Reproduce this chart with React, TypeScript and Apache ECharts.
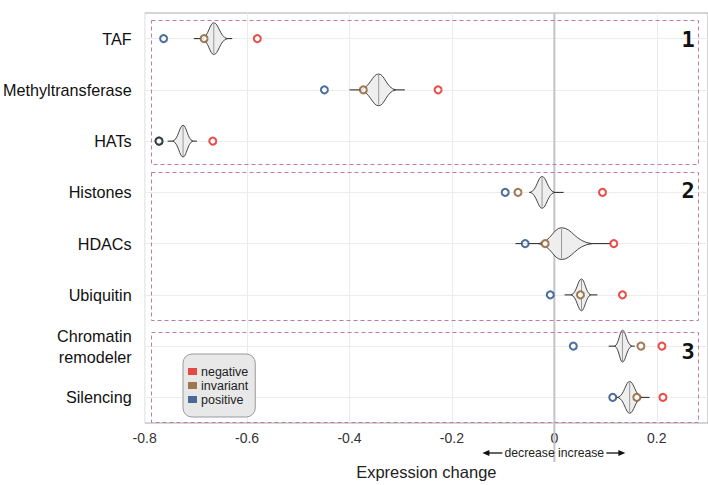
import React, { useEffect, useRef } from 'react';
import * as echarts from 'echarts';

const categories = ['TAF', 'Methyltransferase', 'HATs', 'Histones', 'HDACs', 'Ubiquitin', 'Chromatin\nremodeler', 'Silencing'];
const negative = [-0.58, -0.227, -0.667, 0.094, 0.116, 0.133, 0.21, 0.212];
const invariant = [-0.684, -0.373, -0.772, -0.071, -0.018, 0.051, 0.169, 0.161];
const positive = [-0.763, -0.449, -0.772, -0.096, -0.057, -0.008, 0.037, 0.114];
const violinMedian = [-0.665, -0.343, -0.725, -0.024, 0.014, 0.053, 0.133, 0.147];
const violinMin = [-0.704, -0.4, -0.755, -0.049, -0.076, 0.02, 0.106, 0.118];
const violinMax = [-0.629, -0.292, -0.698, 0.018, 0.112, 0.084, 0.157, 0.186];
const violinBodyLow = [-0.688, -0.38, -0.745, -0.047, -0.031, 0.033, 0.118, 0.124];
const violinBodyHigh = [-0.639, -0.31, -0.706, 0.0, 0.073, 0.071, 0.151, 0.171];
const groupLabels = ['1', '2', '3'];

const FONT = '"Liberation Sans", Arial, Helvetica, sans-serif';
const COLORS = { negative: '#e3201c', invariant: '#8a5a2a', positive: '#1f4a85' };

export default function App() {
  const ref = useRef<HTMLDivElement>(null);
  useEffect(() => {
    if (!ref.current) return;
    const chart = echarts.init(ref.current, null, { renderer: 'svg' });
    const violinData = categories.map((_, i) => [i, violinMedian[i], violinMin[i], violinMax[i], violinBodyLow[i], violinBodyHigh[i]]);

    const renderViolin = (params: any, api: any) => {
      const idx = api.value(0);
      const med = api.coord([api.value(1), idx]);
      const lo = api.coord([api.value(2), idx]);
      const hi = api.coord([api.value(3), idx]);
      const bl = api.coord([api.value(4), idx])[0];
      const bh = api.coord([api.value(5), idx])[0];
      const h = api.size([0, 1])[1] * 0.31;
      const cy = med[1];
      const mx = med[0];
      const dl = mx - bl;
      const dr = bh - mx;
      const d =
        `M${bl},${cy} C${bl + 0.55 * dl},${cy - 0.12 * h} ${mx - 0.35 * dl},${cy - h} ${mx},${cy - h} ` +
        `C${mx + 0.35 * dr},${cy - h} ${bh - 0.55 * dr},${cy - 0.12 * h} ${bh},${cy} ` +
        `C${bh - 0.55 * dr},${cy + 0.12 * h} ${mx + 0.35 * dr},${cy + h} ${mx},${cy + h} ` +
        `C${mx - 0.35 * dl},${cy + h} ${bl + 0.55 * dl},${cy + 0.12 * h} ${bl},${cy} Z`;
      return {
        type: 'group',
        children: [
          { type: 'line', shape: { x1: lo[0], y1: cy, x2: hi[0], y2: cy }, style: { stroke: '#222', lineWidth: 1 } },
          { type: 'path', shape: { pathData: d }, style: { fill: '#eeeeee', stroke: '#333', lineWidth: 0.9 } },
          { type: 'line', shape: { x1: mx, y1: cy - h + 1, x2: mx, y2: cy + h - 1 }, style: { stroke: '#999', lineWidth: 1 } },
        ],
      };
    };

    const scatter = (name: string, arr: number[], color: string, special?: (i: number) => any) => ({
      name,
      type: 'scatter',
      symbol: 'emptyCircle',
      symbolSize: 7,
      z: 3,
      itemStyle: { color, borderWidth: 1.3 },
      data: arr.map((v, i) => (special ? special(i) : null) || [v, i]),
    });

    chart.setOption({
      animation: false,
      textStyle: { fontFamily: FONT },
      grid: { left: 144, right: 0, top: 13, bottom: 58, show: true, borderColor: '#aaaaaa', borderWidth: 1, backgroundColor: 'transparent' },
      xAxis: {
        type: 'value',
        min: -0.8,
        max: 0.3,
        interval: 0.2,
        name: 'Expression change',
        nameLocation: 'middle',
        nameGap: 40,
        nameTextStyle: { fontSize: 16.5, color: '#222', fontFamily: FONT },
        axisLine: { show: false },
        axisTick: { show: false },
        axisLabel: {
          fontSize: 14,
          color: '#333',
          margin: 8,
          showMaxLabel: false,
          fontFamily: FONT,
          formatter: (v: number) => (Math.abs(v) < 1e-9 ? '0' : String(+v.toFixed(1))),
        },
        splitLine: { lineStyle: { color: '#ebebeb', width: 1 } },
      },
      yAxis: {
        type: 'category',
        data: categories,
        inverse: true,
        axisLine: { show: false },
        axisTick: { show: false },
        splitLine: { show: false },
        axisLabel: { fontSize: 16.2, color: '#111', margin: 13, lineHeight: 21, fontFamily: FONT },
      },
      legend: {
        left: 183,
        top: 354,
        orient: 'vertical',
        selectedMode: false,
        backgroundColor: '#e8e8e8',
        borderColor: '#999',
        borderWidth: 1,
        borderRadius: 9,
        padding: [11, 7, 11, 5],
        itemGap: 1,
        itemWidth: 9,
        itemHeight: 7,
        icon: 'rect',
        textStyle: { fontSize: 12.5, color: '#222', fontFamily: FONT, padding: [0, 0, 0, -1] },
        data: [
          { name: 'negative', itemStyle: { color: COLORS.negative, borderWidth: 0 } },
          { name: 'invariant', itemStyle: { color: COLORS.invariant, borderWidth: 0 } },
          { name: 'positive', itemStyle: { color: COLORS.positive, borderWidth: 0 } },
        ],
      },
      series: [
        {
          name: 'violin',
          type: 'custom',
          renderItem: renderViolin,
          encode: { x: [1, 2, 3, 4, 5], y: 0 },
          data: violinData,
          z: 2,
          markLine: {
            silent: true,
            symbol: 'none',
            z: 1,
            label: { show: false },
            lineStyle: { color: '#ececec', type: 'solid', width: 1 },
            data: categories.map((c) => ({ yAxis: c })),
          },
        },
        scatter('positive', positive, COLORS.positive),
        scatter('invariant', invariant, COLORS.invariant, (i) =>
          i === 2 ? { value: [invariant[i], i], itemStyle: { color: '#222', borderWidth: 1.8 } } : null
        ),
        scatter('negative', negative, COLORS.negative),
      ],
    });

    const x0 = chart.convertToPixel({ xAxisIndex: 0 }, 0) as number;
    const ay = 453;
    const dash = { stroke: '#c27ba0', lineWidth: 1, lineDash: [4, 3], fill: 'none' };
    const boxes = [
      { y: 20.5, h: 144 },
      { y: 172.5, h: 148 },
      { y: 332.5, h: 90 },
    ];
    const numPos = [39, 190, 351];
    chart.setOption({
      graphic: [
        { type: 'line', shape: { x1: x0, y1: 13, x2: x0, y2: 462 }, style: { stroke: '#c4c4c4', lineWidth: 2 }, z: 1, silent: true },
        ...boxes.map((b) => ({ type: 'rect', shape: { x: 151.5, y: b.y, width: 547, height: b.h }, style: dash, z: 5, silent: true })),
        ...groupLabels.map((t, i) => ({
          type: 'text',
          x: 688,
          y: numPos[i],
          style: { text: t, fontSize: 22, fontWeight: 'bold', fontFamily: '"DejaVu Sans Mono", monospace', fill: '#111', align: 'center', verticalAlign: 'middle' },
          z: 6,
        })),
        { type: 'text', x: x0, y: ay, style: { text: 'decrease increase', fontSize: 12.2, fontFamily: FONT, fill: '#222', align: 'center', verticalAlign: 'middle' }, z: 6 },
        { type: 'line', shape: { x1: x0 - 52, y1: ay, x2: x0 - 66, y2: ay }, style: { stroke: '#111', lineWidth: 1.3 }, z: 6 },
        { type: 'polygon', shape: { points: [[x0 - 72, ay], [x0 - 65, ay - 3], [x0 - 65, ay + 3]] }, style: { fill: '#111' }, z: 6 },
        { type: 'line', shape: { x1: x0 + 52, y1: ay, x2: x0 + 65, y2: ay }, style: { stroke: '#111', lineWidth: 1.3 }, z: 6 },
        { type: 'polygon', shape: { points: [[x0 + 71, ay], [x0 + 64, ay - 3], [x0 + 64, ay + 3]] }, style: { fill: '#111' }, z: 6 },
      ],
    });

    return () => chart.dispose();
  }, []);
  return <div ref={ref} style={{ position: 'fixed', left: 0, top: 0, width: 708, height: 485, background: '#fff' }} />;
}
